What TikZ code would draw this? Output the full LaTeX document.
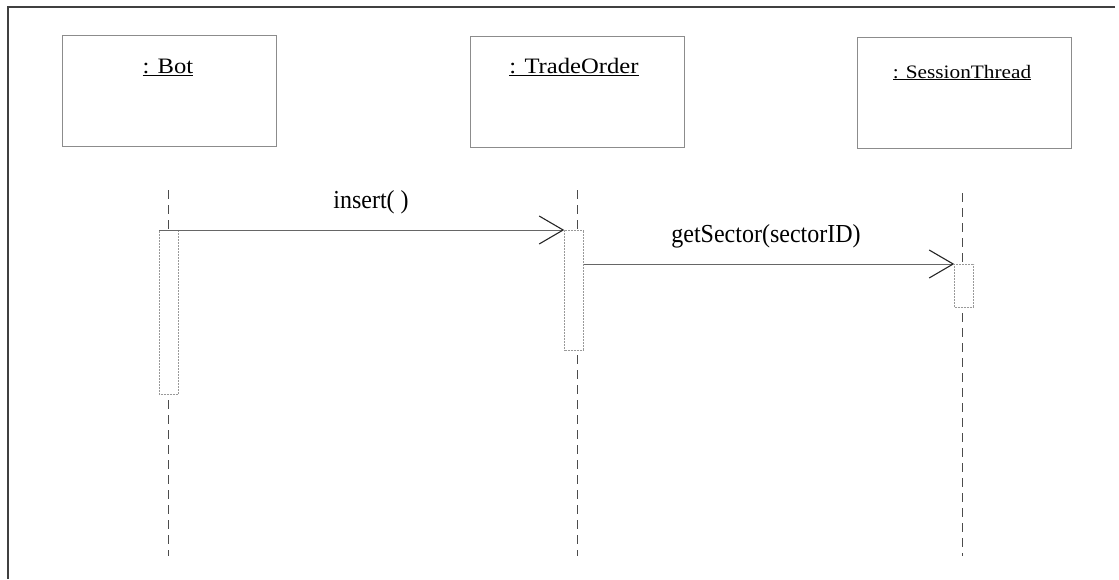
\documentclass[tikz,border=0pt]{standalone}
\usepackage{fontspec}
\setmainfont{Liberation Serif}
\usetikzlibrary{arrows.meta}
\begin{document}
\begin{tikzpicture}[x=1pt,y=-1pt,
  objbox/.style={draw=black!45, line width=0.6pt, minimum width=214pt, minimum height=111pt, anchor=north west, inner sep=0pt},
  lifeline/.style={draw=black!70, line width=0.8pt, dash pattern=on 9pt off 6pt},
  actbox/.style={draw=black!40, line width=0.5pt, densely dotted, fill=white, minimum width=19pt, anchor=north, inner sep=0pt},
  msg/.style={draw=black!60, line width=0.7pt, -{Straight Barb[length=24pt,width=28pt,line width=1.1pt,black!85]}},
  msglabel/.style={font=\fontsize{24}{26}\selectfont, anchor=base, yscale=1.08},
  objlabel/.style={font=\fontsize{22}{24}\selectfont, anchor=base, xscale=1.12},
  frameline/.style={draw=black!75, line width=1.2pt}]
\useasboundingbox (0,0) rectangle (1119,579);
\coordinate (ftl) at (8,7);
\coordinate (ftr) at (1115,7);
\coordinate (fbl) at (8,579);
\draw[frameline] (ftr) -- (ftl) -- (fbl);
% object boxes
\node[objbox] (bot) at (62,35) {};
\node[objbox] (trade) at (470,36) {};
\node[objbox] (sess) at (857,37) {};
\node[objlabel] (botlbl) at (168,73) {\underline{: Bot}};
\node[objlabel] (tradelbl) at (574,73) {\underline{: TradeOrder}};
\node[objlabel, font=\fontsize{19}{21}\selectfont] (sesslbl) at (962,78) {\underline{: SessionThread}};
% lifelines
\coordinate (botT) at (168,190);
\coordinate (botB) at (168,556);
\coordinate (tradeT) at (577,190);
\coordinate (tradeB) at (577,556);
\coordinate (sessT) at (962,193);
\coordinate (sessB) at (962,556);
\draw[lifeline] (botT) -- (botB);
\draw[lifeline] (tradeT) -- (tradeB);
\draw[lifeline] (sessT) -- (sessB);
% activations
\node[actbox, minimum height=164pt] (botact) at (168.5,230) {};
\node[actbox, minimum height=120pt] (tradeact) at (574,230) {};
\node[actbox, minimum height=43pt] (sessact) at (964,264) {};
% messages
\draw[msg] (botact.north west) -- (tradeact.north west);
\draw[msg] (tradeact.east |- sessact.north) -- (sessact.north west);
\node[msglabel] (m1) at (371,208) {insert( )};
\node[msglabel] (m2) at (766,242) {getSector(sectorID)};
\end{tikzpicture}
\end{document}
